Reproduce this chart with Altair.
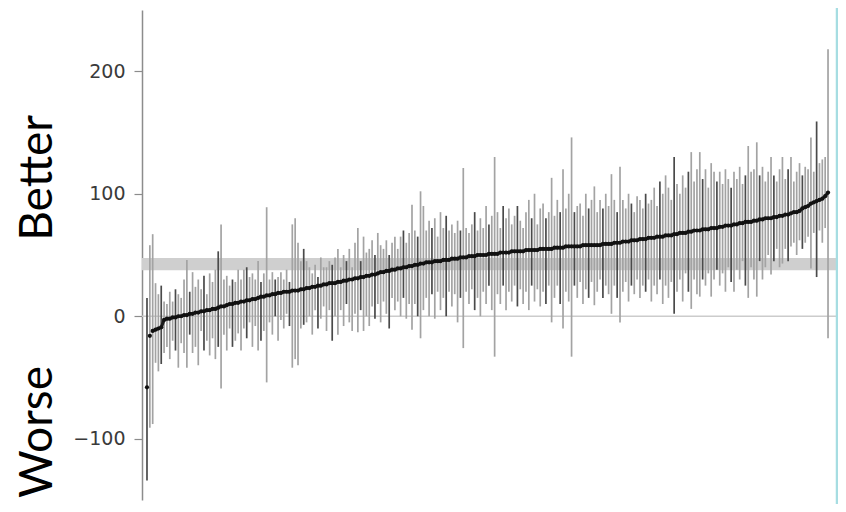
import altair as alt
import pandas as pd

est = [-58, -16, -12, -11, -10, -9, -3, -2, -2, -1,
       -1, 0, 0, 1, 1, 2, 2, 3, 3, 4,
       4, 5, 5, 6, 6, 7, 8, 8, 9, 10,
       10, 11, 11, 12, 12, 13, 13, 14, 14, 15,
       16, 16, 17, 17, 18, 18, 19, 19, 20, 20,
       20, 21, 21, 21, 22, 22, 23, 23, 24, 24,
       25, 25, 26, 26, 27, 27, 27, 28, 28, 29,
       29, 30, 30, 31, 31, 32, 32, 33, 33, 34,
       34, 35, 36, 36, 37, 37, 38, 38, 39, 39,
       40, 40, 41, 41, 42, 42, 43, 43, 44, 44,
       44, 45, 45, 45, 46, 46, 46, 47, 47, 47,
       48, 48, 48, 49, 49, 49, 50, 50, 50, 50,
       51, 51, 51, 51, 52, 52, 52, 52, 53, 53,
       53, 53, 53, 54, 54, 54, 54, 54, 55, 55,
       55, 55, 55, 56, 56, 56, 56, 57, 57, 57,
       57, 57, 57, 58, 58, 58, 58, 58, 58, 58,
       59, 59, 59, 59, 60, 60, 60, 61, 61, 61,
       62, 62, 62, 63, 63, 63, 64, 64, 64, 65,
       65, 65, 66, 66, 66, 67, 67, 68, 68, 68,
       69, 69, 70, 70, 70, 71, 71, 71, 72, 72,
       72, 73, 73, 74, 74, 74, 75, 75, 76, 76,
       77, 77, 77, 78, 78, 79, 79, 80, 80, 80,
       81, 81, 82, 82, 83, 83, 84, 85, 85, 86,
       88, 89, 90, 92, 93, 94, 95, 96, 98, 101]

lo = [-134, -91, -88, -38, -45, -39, -30, -25, -35, -20,
      -28, -42, -22, -30, -42, -15, -30, -25, -40, -12,
      -28, -20, -32, -18, -35, -25, -59, -15, -28, -10,
      -25, -20, -14, -28, -10, -18, -5, -25, -8, -28,
      -20, -12, -54, -5, -15, 0, -20, -3, -10, 2,
      -8, -42, -35, -40, -10, -7, -5, 0, -15, 5,
      -10, -2, 8, -12, 5, -20, 0, -15, 5, -8,
      10, -5, -12, 2, -13, 5, -12, 0, -8, 8,
      -2, 10, -5, 12, 2, -10, 15, 5, 12, 0,
      15, -2, 10, -11, 10, 0, -18, 5, 15, 0,
      18, -2, 20, 5, 15, 0, 20, 8, 18, -5,
      15, -26, 20, 10, 22, 5, 15, 0, 20, 10,
      25, 5, -33, 18, 10, 25, 5, 20, 12, 25,
      8, 22, 10, 20, 5, 25, 12, 22, 8, 20,
      10, 25, -5, 15, 25, 10, -10, 20, 12, -33,
      25, 15, 28, 10, 22, 15, 28, 9, 20, 30,
      15, 25, 18, 2, 25, 15, -5, 20, 28, 12,
      25, 18, 30, 15, 25, 20, 30, 12, 25, 18,
      30, 10, 25, 15, 28, 2, 20, 30, 12, 35,
      20, 6, 30, 18, 16, 30, 25, 35, 16, 30,
      38, 25, 35, 20, 40, 28, 20, 38, 30, 45,
      25, 15, 40, 30, 16, 45, 30, 40, 50, 34,
      45, 55, 40, 43, 55, 45, 57, 60, 50, 62,
      55, 60, 65, 39, 68, 32, 70, 60, 72, -18]

hi = [15, 58, 67, 27, 18, 25, 12, 10, 20, 12,
      22, 18, 15, 30, 46, 20, 36, 24, 30, 22,
      33, 18, 35, 28, 38, 53, 75, 30, 33, 25,
      30, 28, 38, 30, 38, 40, 32, 35, 30, 45,
      28, 35, 89, 30, 36, 30, 32, 36, 30, 38,
      28, 75, 80, 60, 45, 55, 45, 40, 35, 42,
      32, 48, 40, 40, 45, 42, 48, 55, 40, 50,
      45, 55, 40, 60, 72, 45, 65, 52, 55, 62,
      50, 68, 58, 55, 62, 50, 60, 65, 55, 65,
      70, 60, 68, 91, 70, 65, 102, 90, 70, 78,
      72, 80, 65, 85, 72, 82, 70, 75, 68, 78,
      70, 121, 72, 68, 75, 85, 70, 80, 72, 90,
      75, 82, 130, 85, 72, 90, 80, 88, 75, 82,
      90, 78, 72, 85, 95, 80, 100, 75, 88, 92,
      80, 85, 113, 82, 95, 85, 120, 88, 100, 146,
      85, 90, 92, 82, 100, 88, 95, 106, 85, 95,
      88, 100, 90, 116, 95, 85, 122, 95, 88, 100,
      92, 85, 98, 95, 88, 100, 92, 95, 105, 90,
      110, 100, 115, 105, 95, 130, 108, 100, 115, 105,
      118, 134, 110, 120, 134, 112, 120, 105, 125, 118,
      110, 118, 108, 120, 112, 105, 118, 112, 122, 108,
      115, 139, 118, 120, 142, 115, 122, 110, 118, 130,
      115, 110, 120, 130, 112, 120, 130, 110, 118, 125,
      115, 122, 120, 146, 118, 159, 125, 128, 130, 218]

band_lo = [37.5]
band_hi = [47.5]
ref_zero = [0]
y_ticks = [-100, 0, 100, 200]
side_labels = ["Better", "Worse"]

W, H = 694, 490

df = pd.DataFrame({"i": list(range(len(est))), "est": est, "lo": lo, "hi": hi})
band_df = pd.DataFrame({"lo": band_lo, "hi": band_hi})
zero_df = pd.DataFrame({"v": ref_zero})

xs = alt.Scale(domain=[-1.75, 241.8], nice=False, zero=False)
ys = alt.Scale(domain=[-150, 250], nice=False, zero=False)

band = alt.Chart(band_df).mark_rect(color="#cfcfcf").encode(
    y=alt.Y("lo:Q", scale=ys, axis=alt.Axis(
        values=y_ticks, title=None, grid=False, domainColor="#8c8c8c", domainWidth=1.5,
        tickColor="#8c8c8c", tickSize=8, tickWidth=1.2, labelPadding=9,
        labelFont="DejaVu Sans", labelFontSize=19, labelColor="#3a3a3a")),
    y2="hi:Q",
    x=alt.value(0), x2=alt.value(W),
)

zero = alt.Chart(zero_df).mark_rule(color="#cccccc", strokeWidth=1.6).encode(
    y=alt.Y("v:Q", scale=ys), x=alt.value(0), x2=alt.value(W)
)

bars = alt.Chart(df).transform_calculate(
    shade="datum.i % 5 == 0 ? 'dark' : 'light'"
).mark_rule(strokeWidth=1.7).encode(
    x=alt.X("i:Q", scale=xs, axis=None),
    y=alt.Y("lo:Q", scale=ys),
    y2="hi:Q",
    color=alt.Color("shade:N", scale=alt.Scale(domain=["dark", "light"], range=["#4a4a4a", "#a3a3a3"]), legend=None),
)

line = alt.Chart(df).transform_filter("datum.i >= 2").mark_line(
    color="#1a1a1a", strokeWidth=3
).encode(x=alt.X("i:Q", scale=xs), y=alt.Y("est:Q", scale=ys))

pts = alt.Chart(df).mark_circle(color="#111111", size=18, opacity=1).encode(
    x=alt.X("i:Q", scale=xs), y=alt.Y("est:Q", scale=ys)
)

edge = alt.Chart(zero_df).mark_rule(color="#a6dde2", strokeWidth=2.5).encode(
    x=alt.value(W + 1), y=alt.value(-10), y2=alt.value(H + 20)
)

better = alt.Chart(pd.DataFrame({"t": [side_labels[0]]})).mark_text(
    angle=270, align="right", baseline="alphabetic", font="Lato", fontSize=46, color="#000000"
).encode(text="t:N", x=alt.value(-90), y=alt.value(105))

worse = alt.Chart(pd.DataFrame({"t": [side_labels[1]]})).mark_text(
    angle=270, align="right", baseline="alphabetic", font="Lato", fontSize=46, color="#000000"
).encode(text="t:N", x=alt.value(-90), y=alt.value(356))

chart = alt.layer(band, zero, bars, line, pts, edge, better, worse).properties(
    width=W, height=H,
    padding={"left": 134, "top": 2, "right": 2, "bottom": 4},
    autosize=alt.AutoSizeParams(type="none"),
    background="white",
).configure_view(stroke=None, strokeWidth=0)

chart.save("out.html", embed_options={"renderer": "svg", "actions": False})
